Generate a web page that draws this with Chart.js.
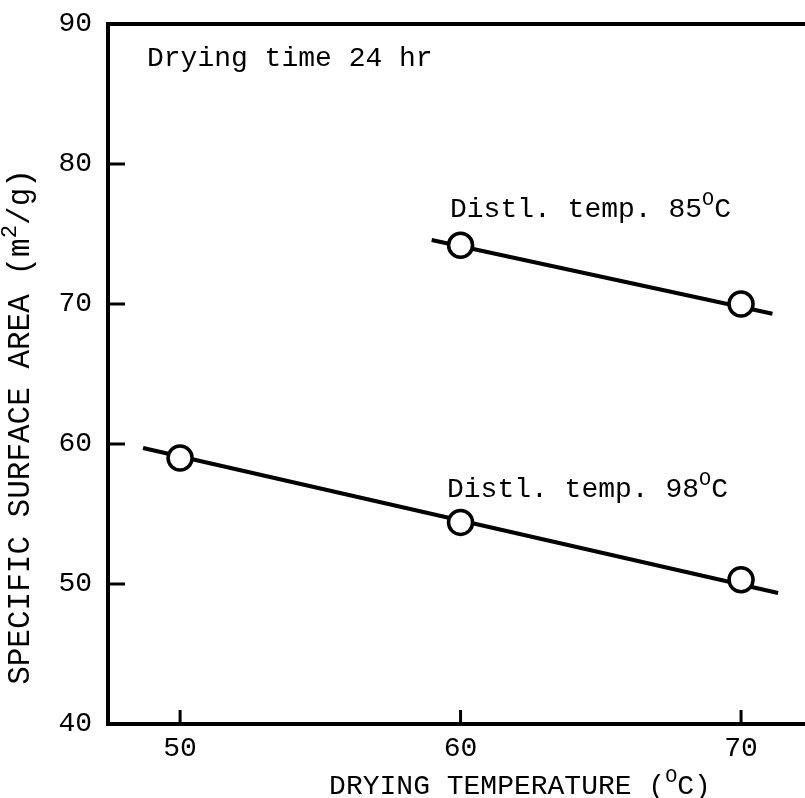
<!DOCTYPE html>
<html>
<head>
<meta charset="utf-8">
<script src="https://cdn.jsdelivr.net/npm/chart.js@4"></script>
<style>
  html, body { margin: 0; padding: 0; background: #fff; overflow: hidden; }
  #wrap { width: 805px; height: 798px; position: relative; }
  canvas { display: block; }
</style>
</head>
<body>
<div id="wrap"><canvas id="area"></canvas></div>
<script>
// measured points
var temps85 = [60, 70];
var area85 = [74.2, 70.0];
var temps98 = [50, 60, 70];
var area98 = [59.0, 54.4, 50.3];
// drawn fit lines (end points)
var fit85X = [58.97, 71.12];
var fit85Y = [74.57, 69.3];
var fit98X = [48.68, 71.32];
var fit98Y = [59.71, 49.36];
var xTicks = [50, 60, 70];
var yTicks = [40, 50, 60, 70, 80, 90];

var FONT = "'Liberation Mono', 'DejaVu Sans Mono', monospace";

function pts(xs, ys) {
  return xs.map(function (x, i) { return { x: x, y: ys[i] }; });
}

// text with superscripts: parts = [[text, isSup], ...]
function richWidth(ctx, parts, size) {
  var w = 0;
  parts.forEach(function (p) {
    ctx.font = (p[1] ? size * 0.72 : size) + "px " + FONT;
    w += ctx.measureText(p[0]).width;
  });
  return w;
}
function drawRich(ctx, parts, x, y, size) {
  ctx.textBaseline = "alphabetic";
  ctx.textAlign = "left";
  parts.forEach(function (p) {
    ctx.font = (p[1] ? size * 0.72 : size) + "px " + FONT;
    ctx.fillText(p[0], x, p[1] ? y - size * 0.42 : y);
    x += ctx.measureText(p[0]).width;
  });
}

var decor = {
  id: "decor",
  beforeDraw: function (chart) {
    var ctx = chart.ctx;
    ctx.save();
    ctx.fillStyle = "#fff";
    ctx.fillRect(0, 0, chart.width, chart.height);
    ctx.restore();
  },
  afterDraw: function (chart) {
    var ctx = chart.ctx, a = chart.chartArea;
    var xs = chart.scales.x, ys = chart.scales.y;
    ctx.save();
    ctx.strokeStyle = "#000";
    ctx.fillStyle = "#000";
    // frame
    ctx.lineWidth = 4;
    ctx.beginPath();
    ctx.moveTo(chart.width, a.top);
    ctx.lineTo(a.left, a.top);
    ctx.lineTo(a.left, a.bottom);
    ctx.lineTo(chart.width, a.bottom);
    ctx.stroke();
    // inward ticks
    ctx.lineWidth = 3;
    ys.ticks.forEach(function (t) {
      if (t.value <= ys.min || t.value >= ys.max) return;
      var py = ys.getPixelForValue(t.value);
      ctx.beginPath();
      ctx.moveTo(a.left, py);
      ctx.lineTo(a.left + 17, py);
      ctx.stroke();
    });
    xs.ticks.forEach(function (t) {
      var px = xs.getPixelForValue(t.value);
      ctx.beginPath();
      ctx.moveTo(px, a.bottom);
      ctx.lineTo(px, a.bottom - 14);
      ctx.stroke();
    });
    // notes
    var s = 28;
    drawRich(ctx, [["Drying time 24 hr", false]], 147, 66, s);
    drawRich(ctx, [["Distl. temp. 85", false], ["O", true], ["C", false]], 450, 217, s);
    drawRich(ctx, [["Distl. temp. 98", false], ["O", true], ["C", false]], 447, 497, s);
    // x title
    var xt = [["DRYING TEMPERATURE (", false], ["O", true], ["C)", false]];
    var w = richWidth(ctx, xt, s);
    drawRich(ctx, xt, 520 - w / 2, 794, s);
    // y title
    var sy = 31;
    var yt = [["SPECIFIC SURFACE AREA (m", false], ["2", true], ["/g)", false]];
    var wy = richWidth(ctx, yt, sy);
    ctx.translate(29, 427);
    ctx.rotate(-Math.PI / 2);
    drawRich(ctx, yt, -wy / 2, 0, sy);
    ctx.restore();
  }
};

new Chart("area", {
  type: "scatter",
  data: {
    datasets: [
      {
        label: "85 C",
        data: pts(temps85, area85),
        showLine: false,
        pointRadius: 12,
        pointBorderWidth: 3.5,
        pointBackgroundColor: "#fff",
        pointBorderColor: "#000",
        order: 0
      },
      {
        label: "98 C",
        data: pts(temps98, area98),
        showLine: false,
        pointRadius: 12,
        pointBorderWidth: 3.5,
        pointBackgroundColor: "#fff",
        pointBorderColor: "#000",
        order: 0
      },
      {
        label: "fit 85",
        data: pts(fit85X, fit85Y),
        showLine: true,
        borderColor: "#000",
        borderWidth: 4,
        pointRadius: 0,
        order: 1
      },
      {
        label: "fit 98",
        data: pts(fit98X, fit98Y),
        showLine: true,
        borderColor: "#000",
        borderWidth: 4,
        pointRadius: 0,
        order: 1
      }
    ]
  },
  options: {
    responsive: true,
    maintainAspectRatio: false,
    animation: false,
    layout: { autoPadding: false, padding: { top: 24, right: 0, left: 0, bottom: 0 } },
    plugins: { legend: { display: false }, tooltip: { enabled: false } },
    scales: {
      x: {
        type: "linear",
        min: 47.43,
        max: 72.28,
        afterBuildTicks: function (scale) {
          scale.ticks = xTicks.map(function (v) { return { value: v }; });
        },
        afterFit: function (scale) {
          scale.height = 74;
          scale.paddingLeft = 0;
          scale.paddingRight = 0;
        },
        grid: { display: false, drawTicks: false },
        border: { display: false },
        ticks: { color: "#000", padding: 8, maxRotation: 0, font: { family: FONT, size: 28 } }
      },
      y: {
        min: 40,
        max: 90,
        afterBuildTicks: function (scale) {
          scale.ticks = yTicks.map(function (v) { return { value: v }; });
        },
        afterFit: function (scale) {
          scale.width = 108;
          scale.paddingTop = 0;
          scale.paddingBottom = 0;
        },
        grid: { display: false, drawTicks: false },
        border: { display: false },
        ticks: { color: "#000", padding: 16, font: { family: FONT, size: 28 } }
      }
    }
  },
  plugins: [decor]
});
</script>
</body>
</html>
